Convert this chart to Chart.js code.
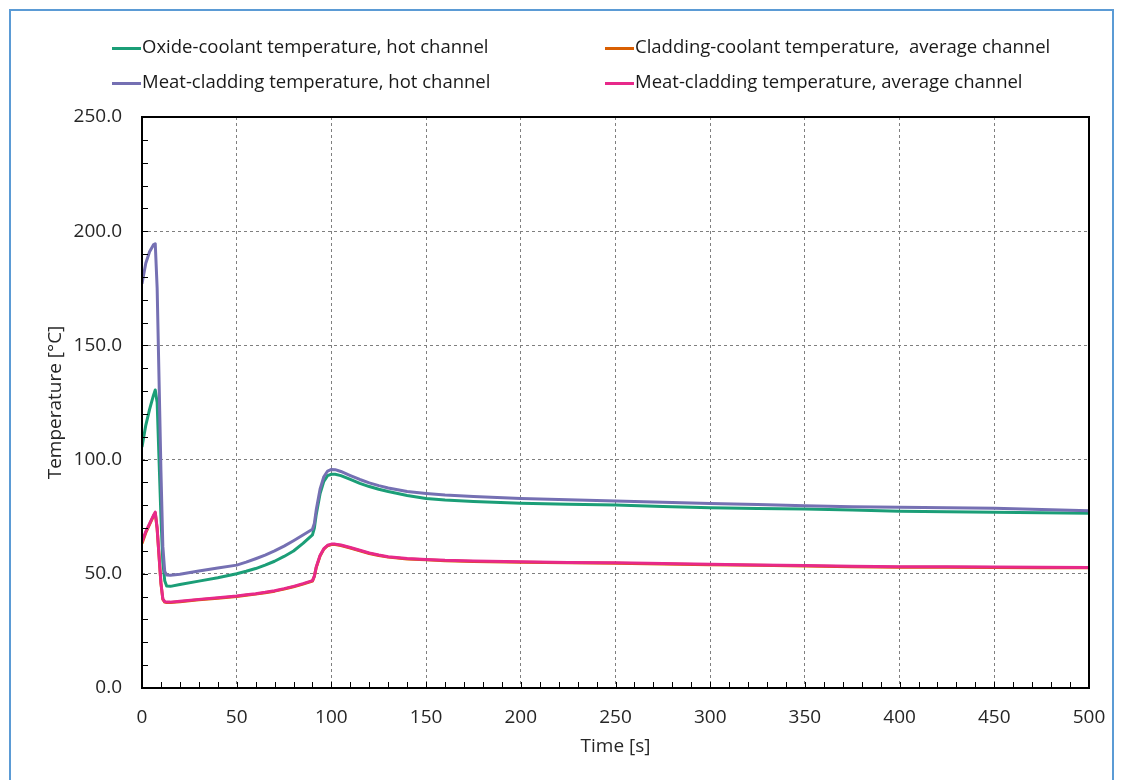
<!DOCTYPE html>
<html>
<head>
<meta charset="utf-8">
<script src="https://cdn.jsdelivr.net/npm/chart.js@4/dist/chart.umd.min.js"></script>
<style>
    html, body { margin: 0; padding: 0; background: #fff; overflow: hidden; }
    #wrap { position: relative; width: 1124px; height: 780px; }
    #frame { position: absolute; left: 9px; top: 9px; width: 1101px; height: 800px; border: 2px solid #5b9bd5; }
    #chart { position: absolute; left: 0; top: 0; }
    #legend {
        position: absolute; left: 112px; top: 28px;
        display: grid; grid-template-columns: 493px auto; grid-auto-rows: 35px;
        font-family: "Open Sans", sans-serif; font-size: 18.5px; color: #1a1a1a;
    }
    #legend div { line-height: 35px; white-space: pre; }
    #legend span { display: inline-block; width: 29px; height: 3px; vertical-align: middle; margin-right: 1px; }
</style>
</head>
<body>
<div id="wrap">
    <div id="frame"></div>
    <canvas id="chart" width="1124" height="780"></canvas>
    <div id="legend"></div>
</div>
<script>
// data
const times = [0, 2, 4, 6, 7, 8, 9, 10, 11, 12, 13, 15, 20, 30, 40, 50, 55, 60, 65, 70, 75, 80, 85, 90,
    91, 92, 94, 96, 98, 100, 102, 105, 110, 115, 120, 125, 130, 140, 150, 160, 175, 200,
    225, 250, 275, 300, 325, 350, 375, 400, 425, 450, 475, 500]

const oxideHot = [105.5, 115, 122, 128, 130.5, 125, 100, 75, 55, 47, 44.7, 44.5, 45.3, 46.8, 48.3, 50, 51.1, 52.3, 53.8, 55.5, 57.6, 60, 63.3, 67,
    70, 76, 85, 90.5, 93, 93.6, 93.6, 93, 91.3, 89.6, 88.2, 87, 86, 84.3, 83, 82.3, 81.7, 80.9,
    80.5, 80.1, 79.5, 78.9, 78.6, 78.4, 77.9, 77.4, 77.2, 76.9, 76.7, 76.5]

const meatHot = [177, 186, 191, 194, 194.5, 175, 135, 95, 62, 51, 49.5, 49.4, 49.8, 51.2, 52.5, 53.8, 55.1, 56.6, 58.2, 60, 62.1, 64.5, 67, 69.5,
    72, 78, 87, 92.5, 95, 95.7, 95.6, 94.8, 93, 91.3, 89.8, 88.6, 87.6, 86, 85.2, 84.5, 83.8, 83,
    82.4, 81.9, 81.3, 80.8, 80.3, 79.8, 79.4, 79.1, 78.9, 78.7, 78.1, 77.6]

const meatAvg = [64, 68.5, 72, 75.5, 77, 70, 58, 46, 39, 37.8, 37.6, 37.6, 38, 38.8, 39.5, 40.3, 40.8, 41.3, 41.9, 42.6, 43.5, 44.5, 45.7, 47,
    49, 53, 58, 61, 62.5, 63, 63, 62.6, 61.5, 60.3, 59.1, 58.2, 57.5, 56.7, 56.3, 55.9, 55.6, 55.3,
    55, 54.8, 54.5, 54.2, 53.9, 53.6, 53.3, 53.1, 53.1, 53, 52.9, 52.8]

const claddingAvg = [63.3, 68, 71.6, 75.1, 76.6, 69.6, 57.6, 45.7, 38.8, 37.6, 37.4, 37.4, 37.8, 38.6, 39.3, 40.1, 40.6, 41.1, 41.7, 42.4, 43.3, 44.3, 45.5, 46.8,
    48.8, 52.8, 57.8, 60.8, 62.3, 62.8, 62.8, 62.4, 61.3, 60.1, 58.9, 58, 57.3, 56.5, 56.1, 55.7, 55.4, 55.1,
    54.8, 54.6, 54.3, 54, 53.7, 53.4, 53.1, 52.9, 52.9, 52.8, 52.7, 52.6]

const seriesLabels = [
    "Oxide-coolant temperature, hot channel",
    "Cladding-coolant temperature,  average channel",
    "Meat-cladding temperature, hot channel",
    "Meat-cladding temperature, average channel",
]
const seriesColors = ["#1b9e77", "#d95f02", "#7570b3", "#e7298a"]
const seriesValues = [oxideHot, claddingAvg, meatHot, meatAvg]
const drawOrder = [2, 3, 1, 0]

const xTicks = [0, 50, 100, 150, 200, 250, 300, 350, 400, 450, 500]
const yTicks = [0, 50, 100, 150, 200, 250]

function main() {
    // legend as html text
    const legend = document.getElementById("legend")
    seriesLabels.forEach((label, i) => {
        const item = document.createElement("div")
        const swatch = document.createElement("span")
        swatch.style.background = seriesColors[i]
        item.appendChild(swatch)
        item.appendChild(document.createTextNode(label))
        legend.appendChild(item)
    })

    const tickFont = { family: "Open Sans", size: 19 }

    // frame round the plot and small inner ticks every 10
    const frameTicks = {
        id: "frameTicks",
        afterDraw(chart) {
            const { ctx, chartArea: a, scales: { x, y } } = chart
            ctx.save()
            ctx.strokeStyle = "#000"
            ctx.lineWidth = 1
            ctx.beginPath()
            for (let v = 10; v < 500; v += 10) {
                const px = Math.round(x.getPixelForValue(v)) + 0.5
                ctx.moveTo(px, a.bottom)
                ctx.lineTo(px, a.bottom - 6)
            }
            for (let v = 10; v < 250; v += 10) {
                const py = Math.round(y.getPixelForValue(v)) + 0.5
                ctx.moveTo(a.left, py)
                ctx.lineTo(a.left + 6, py)
            }
            ctx.stroke()
            ctx.lineWidth = 2
            ctx.strokeRect(a.left, a.top, a.right - a.left, a.bottom - a.top)
            ctx.restore()
        },
    }

    new Chart(document.getElementById("chart"), {
        type: "line",
        data: {
            datasets: seriesValues.map((vals, i) => ({
                label: seriesLabels[i],
                data: times.map((t, k) => ({ x: t, y: vals[k] })),
                borderColor: seriesColors[i],
                backgroundColor: seriesColors[i],
                borderWidth: 3,
                pointRadius: 0,
                tension: 0,
                borderJoinStyle: "round",
                order: drawOrder[i],
            })),
        },
        options: {
            responsive: false,
            animation: false,
            layout: { padding: { top: 117, right: 35, left: 0, bottom: 0 } },
            scales: {
                x: {
                    type: "linear",
                    min: 0,
                    max: 500,
                    afterBuildTicks: (s) => { s.ticks = xTicks.map(v => ({ value: v })) },
                    afterFit: (s) => { s.height = 92 },
                    ticks: { color: "#262626", font: tickFont, padding: 18, maxRotation: 0, callback: (v) => String(v) },
                    grid: { color: "#7f7f7f", lineWidth: 1, drawTicks: false },
                    border: { display: false, dash: [3, 3] },
                    title: { display: true, text: "Time [s]", color: "#262626", font: tickFont, padding: { top: 0, bottom: 22 } },
                },
                y: {
                    min: 0,
                    max: 250,
                    afterBuildTicks: (s) => { s.ticks = yTicks.map(v => ({ value: v })) },
                    afterFit: (s) => { s.width = 142 },
                    ticks: { color: "#262626", font: tickFont, padding: 20, callback: (v) => v.toFixed(1) },
                    grid: { color: "#7f7f7f", lineWidth: 1, drawTicks: false },
                    border: { display: false, dash: [3, 3] },
                    title: { display: true, text: "Temperature [°C]", color: "#262626", font: tickFont, padding: { top: 44, bottom: 0 } },
                },
            },
            plugins: {
                legend: { display: false },
                tooltip: { enabled: false },
            },
        },
        plugins: [frameTicks],
    })
}

document.addEventListener("DOMContentLoaded", main())
</script>
</body>
</html>
